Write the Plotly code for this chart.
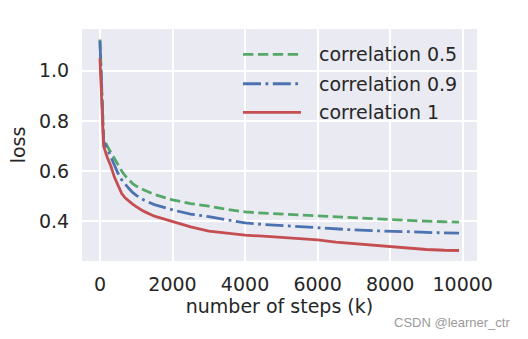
import plotly.graph_objects as go

steps = [0, 100, 200, 300, 400, 500, 600, 700, 800, 900, 1000, 1200, 1500, 2000,
         2500, 3000, 3500, 4000, 4500, 5000, 5500, 6000, 6500, 7000, 7500, 8000,
         8500, 9000, 9500, 9900]

loss_corr_05 = [1.125, 0.73, 0.70, 0.675, 0.645, 0.62, 0.60, 0.58, 0.565, 0.55, 0.54,
                0.525, 0.507, 0.485, 0.47, 0.46, 0.447, 0.437, 0.432, 0.428, 0.425,
                0.422, 0.419, 0.414, 0.41, 0.407, 0.403, 0.40, 0.398, 0.396]
loss_corr_09 = [1.12, 0.72, 0.69, 0.655, 0.62, 0.59, 0.565, 0.545, 0.53, 0.515, 0.503,
                0.485, 0.466, 0.445, 0.428, 0.418, 0.405, 0.393, 0.387, 0.382, 0.377,
                0.372, 0.368, 0.365, 0.362, 0.361, 0.358, 0.355, 0.353, 0.352]
loss_corr_1 = [1.05, 0.70, 0.655, 0.62, 0.575, 0.54, 0.51, 0.492, 0.478, 0.468, 0.458,
               0.44, 0.42, 0.398, 0.377, 0.36, 0.352, 0.344, 0.34, 0.334, 0.329,
               0.325, 0.316, 0.31, 0.303, 0.297, 0.291, 0.287, 0.284, 0.283]

series_names = ["correlation 0.5", "correlation 0.9", "correlation 1"]
series_values = [loss_corr_05, loss_corr_09, loss_corr_1]
series_colors = ["#55A868", "#4C72B0", "#C44E52"]
series_dashes = ["10.4px,4.5px", "18px,4.5px,2.8px,4.5px", "solid"]

x_ticks = [0, 2000, 4000, 6000, 8000, 10000]
y_ticks = [0.4, 0.6, 0.8, 1.0]
y_tick_labels = ["0.4", "0.6", "0.8", "1.0"]

LW = 2.8
FONT = "DejaVu Sans"
TXT = "#262626"

fig = go.Figure()
for name, vals, col, dash in zip(series_names, series_values, series_colors, series_dashes):
    fig.add_trace(go.Scatter(x=steps, y=vals, mode="lines", name=name,
                             line=dict(color=col, width=LW, dash=dash),
                             showlegend=False))

# manual legend (matplotlib style: long line sample, no frame)
leg_y = [0.891, 0.764, 0.641]
for name, col, dash, ly in zip(series_names, series_colors, series_dashes, leg_y):
    fig.add_shape(type="line", xref="paper", yref="paper",
                  x0=0.4076, x1=0.5544, y0=ly, y1=ly,
                  line=dict(color=col, width=LW, dash=dash))
    fig.add_annotation(xref="paper", yref="paper", x=0.594, y=ly, text=name,
                       showarrow=False, xanchor="left", yanchor="middle",
                       font=dict(family=FONT, size=19, color=TXT))

fig.add_annotation(xref="paper", yref="paper", x=1.088, y=-0.265,
                   text="CSDN @learner_ctr", showarrow=False,
                   xanchor="right", yanchor="middle",
                   font=dict(family="Liberation Sans", size=13, color="#9a9a9a"))

fig.update_layout(
    width=528, height=339,
    margin=dict(l=82, r=51, t=29, b=78),
    paper_bgcolor="white", plot_bgcolor="#EAEAF2",
    font=dict(family=FONT, size=19, color=TXT),
    xaxis=dict(range=[-495, 10395], tickvals=x_ticks, ticktext=[str(v) for v in x_ticks],
               showgrid=True, gridcolor="white", gridwidth=1.6, zeroline=False,
               ticks="outside", ticklen=6, tickcolor="rgba(0,0,0,0)",
               title=dict(text="number of steps (k)", standoff=4,
                          font=dict(family=FONT, size=19, color=TXT)),
               tickfont=dict(family=FONT, size=19, color=TXT), showline=False),
    yaxis=dict(range=[0.241, 1.167], tickvals=y_ticks, ticktext=y_tick_labels,
               showgrid=True, gridcolor="white", gridwidth=1.6, zeroline=False,
               ticks="outside", ticklen=8, tickcolor="rgba(0,0,0,0)",
               title=dict(text="loss", standoff=8,
                          font=dict(family=FONT, size=19, color=TXT)),
               tickfont=dict(family=FONT, size=19, color=TXT), showline=False),
)

fig.write_html("out.html")
